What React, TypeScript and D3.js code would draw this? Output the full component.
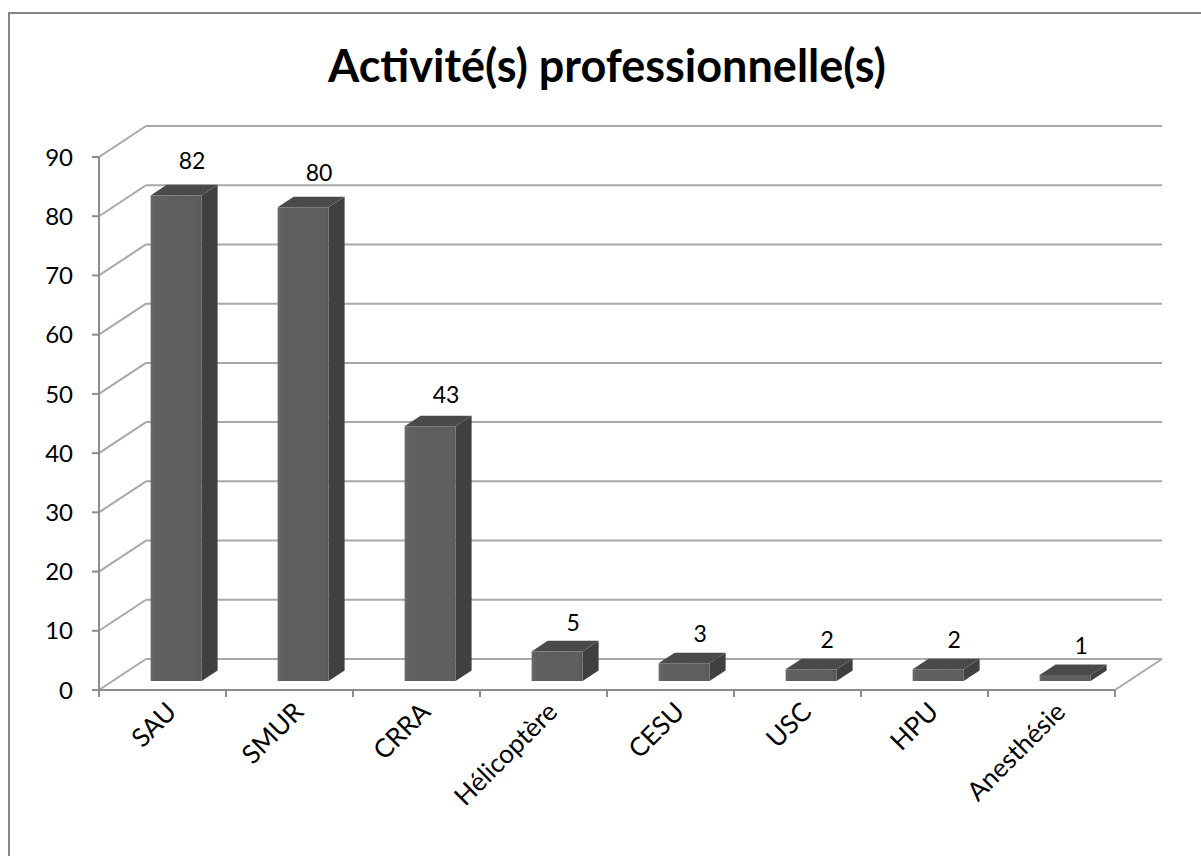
import React from "react";
import * as d3 from "d3";

const categories = ["SAU", "SMUR", "CRRA", "Hélicoptère", "CESU", "USC", "HPU", "Anesthésie"];
const values = [82, 80, 43, 5, 3, 2, 2, 1];
const yTicks = [0, 10, 20, 30, 40, 50, 60, 70, 80, 90];
const title = "Activité(s) professionnelle(s)";

const W = 1201;
const H = 856;
const DX = 47;
const DY = -31;
const Z_FRONT = 0.29;
const Z_BACK = 0.63;
const FONT = "Lato, 'Open Sans', sans-serif";

export default function App() {
  const x = d3.scaleBand<string>().domain(categories).range([99, 1115]).paddingInner(0).paddingOuter(0);
  const y = d3.scaleLinear().domain([0, 90]).range([690, 157]);
  const P = (px: number, py: number, z: number): [number, number] => [px + z * DX, py + z * DY];
  const poly = (pts: [number, number][]) => pts.map((p) => p.join(",")).join(" ");
  const bw = x.bandwidth();
  const barW = 51;
  const gridColor = "#a8a8a8";
  const axisColor = "#8c8c8c";
  const x0 = 99;
  const x1 = 1115;

  return (
    <svg width={W} height={H} style={{ display: "block", position: "absolute", left: 0, top: 0 }}>
      <defs>
        <linearGradient id="frontG" x1="0" x2="1" y1="0" y2="0">
          <stop offset="0" stopColor="#6a6a6a" />
          <stop offset="0.08" stopColor="#606060" />
          <stop offset="0.92" stopColor="#5e5e5e" />
          <stop offset="1" stopColor="#575757" />
        </linearGradient>
      </defs>
      <rect x={0} y={0} width={W} height={H} fill="#ffffff" />
      <rect x={9} y={13} width={W + 20} height={H + 20} fill="none" stroke="#868686" strokeWidth={2} />
      <text x={607} y={82} textAnchor="middle" fontFamily={FONT} fontWeight="bold" fontSize={45} fill="#000">
        {title}
      </text>

      {/* back wall gridlines and left wall diagonals */}
      {yTicks.map((t) => {
        const a = P(x0, y(t), 0);
        const b = P(x0, y(t), 1);
        const c = P(x1, y(t), 1);
        return (
          <g key={"g" + t}>
            <line x1={a[0]} y1={a[1]} x2={b[0]} y2={b[1]} stroke={gridColor} strokeWidth={2} />
            <line x1={b[0]} y1={b[1]} x2={c[0]} y2={c[1]} stroke={gridColor} strokeWidth={2} />
          </g>
        );
      })}
      {/* floor right edge */}
      {(() => {
        const a = P(x1, y(0), 0);
        const b = P(x1, y(0), 1);
        return <line x1={a[0]} y1={a[1]} x2={b[0]} y2={b[1]} stroke={gridColor} strokeWidth={2} />;
      })()}

      {/* axes */}
      <line x1={x0} y1={y(0)} x2={x1} y2={y(0)} stroke={axisColor} strokeWidth={2} />
      <line x1={x0} y1={y(90)} x2={x0} y2={y(0)} stroke={axisColor} strokeWidth={2} />
      {yTicks.map((t) => (
        <g key={"yt" + t}>
          <line x1={x0 - 7} y1={y(t)} x2={x0} y2={y(t)} stroke={axisColor} strokeWidth={2} />
          <text x={73} y={y(t)} dy="0.36em" textAnchor="end" fontFamily={FONT} fontSize={24} fill="#000">
            {t}
          </text>
        </g>
      ))}
      {[...categories.map((c) => x(c) as number), x1].map((tx, i) => (
        <line key={"xt" + i} x1={tx} y1={y(0)} x2={tx} y2={y(0) + 7} stroke={axisColor} strokeWidth={2} />
      ))}

      {/* bars */}
      {categories.map((c, i) => {
        const v = values[i];
        const cx = (x(c) as number) + bw / 2;
        const bl = cx - barW / 2;
        const br = cx + barW / 2;
        const yt = y(v);
        const yb = y(0);
        const front = [P(bl, yt, Z_FRONT), P(br, yt, Z_FRONT), P(br, yb, Z_FRONT), P(bl, yb, Z_FRONT)];
        const side = [P(br, yt, Z_FRONT), P(br, yt, Z_BACK), P(br, yb, Z_BACK), P(br, yb, Z_FRONT)];
        const top = [P(bl, yt, Z_FRONT), P(br, yt, Z_FRONT), P(br, yt, Z_BACK), P(bl, yt, Z_BACK)];
        const lab = P(cx, yt, Z_BACK);
        return (
          <g key={"b" + c}>
            <polygon points={poly(side)} fill="#404040" />
            <polygon points={poly(top)} fill="#4a4a4a" />
            <polygon points={poly(front)} fill="url(#frontG)" />
            <text x={lab[0]} y={lab[1] - 10 - v * 0.07} textAnchor="middle" fontFamily={FONT} fontSize={23} fill="#000">
              {v}
            </text>
          </g>
        );
      })}

      {/* category labels */}
      {categories.map((c) => {
        const cx = (x(c) as number) + bw / 2;
        const ax = cx + 9;
        const ay = 707;
        return (
          <text
            key={"xl" + c}
            x={ax}
            y={ay}
            dy="0.35em"
            textAnchor="end"
            transform={`rotate(-45 ${ax} ${ay})`}
            fontFamily={FONT}
            fontSize={26}
            fill="#000"
          >
            {c}
          </text>
        );
      })}
    </svg>
  );
}
